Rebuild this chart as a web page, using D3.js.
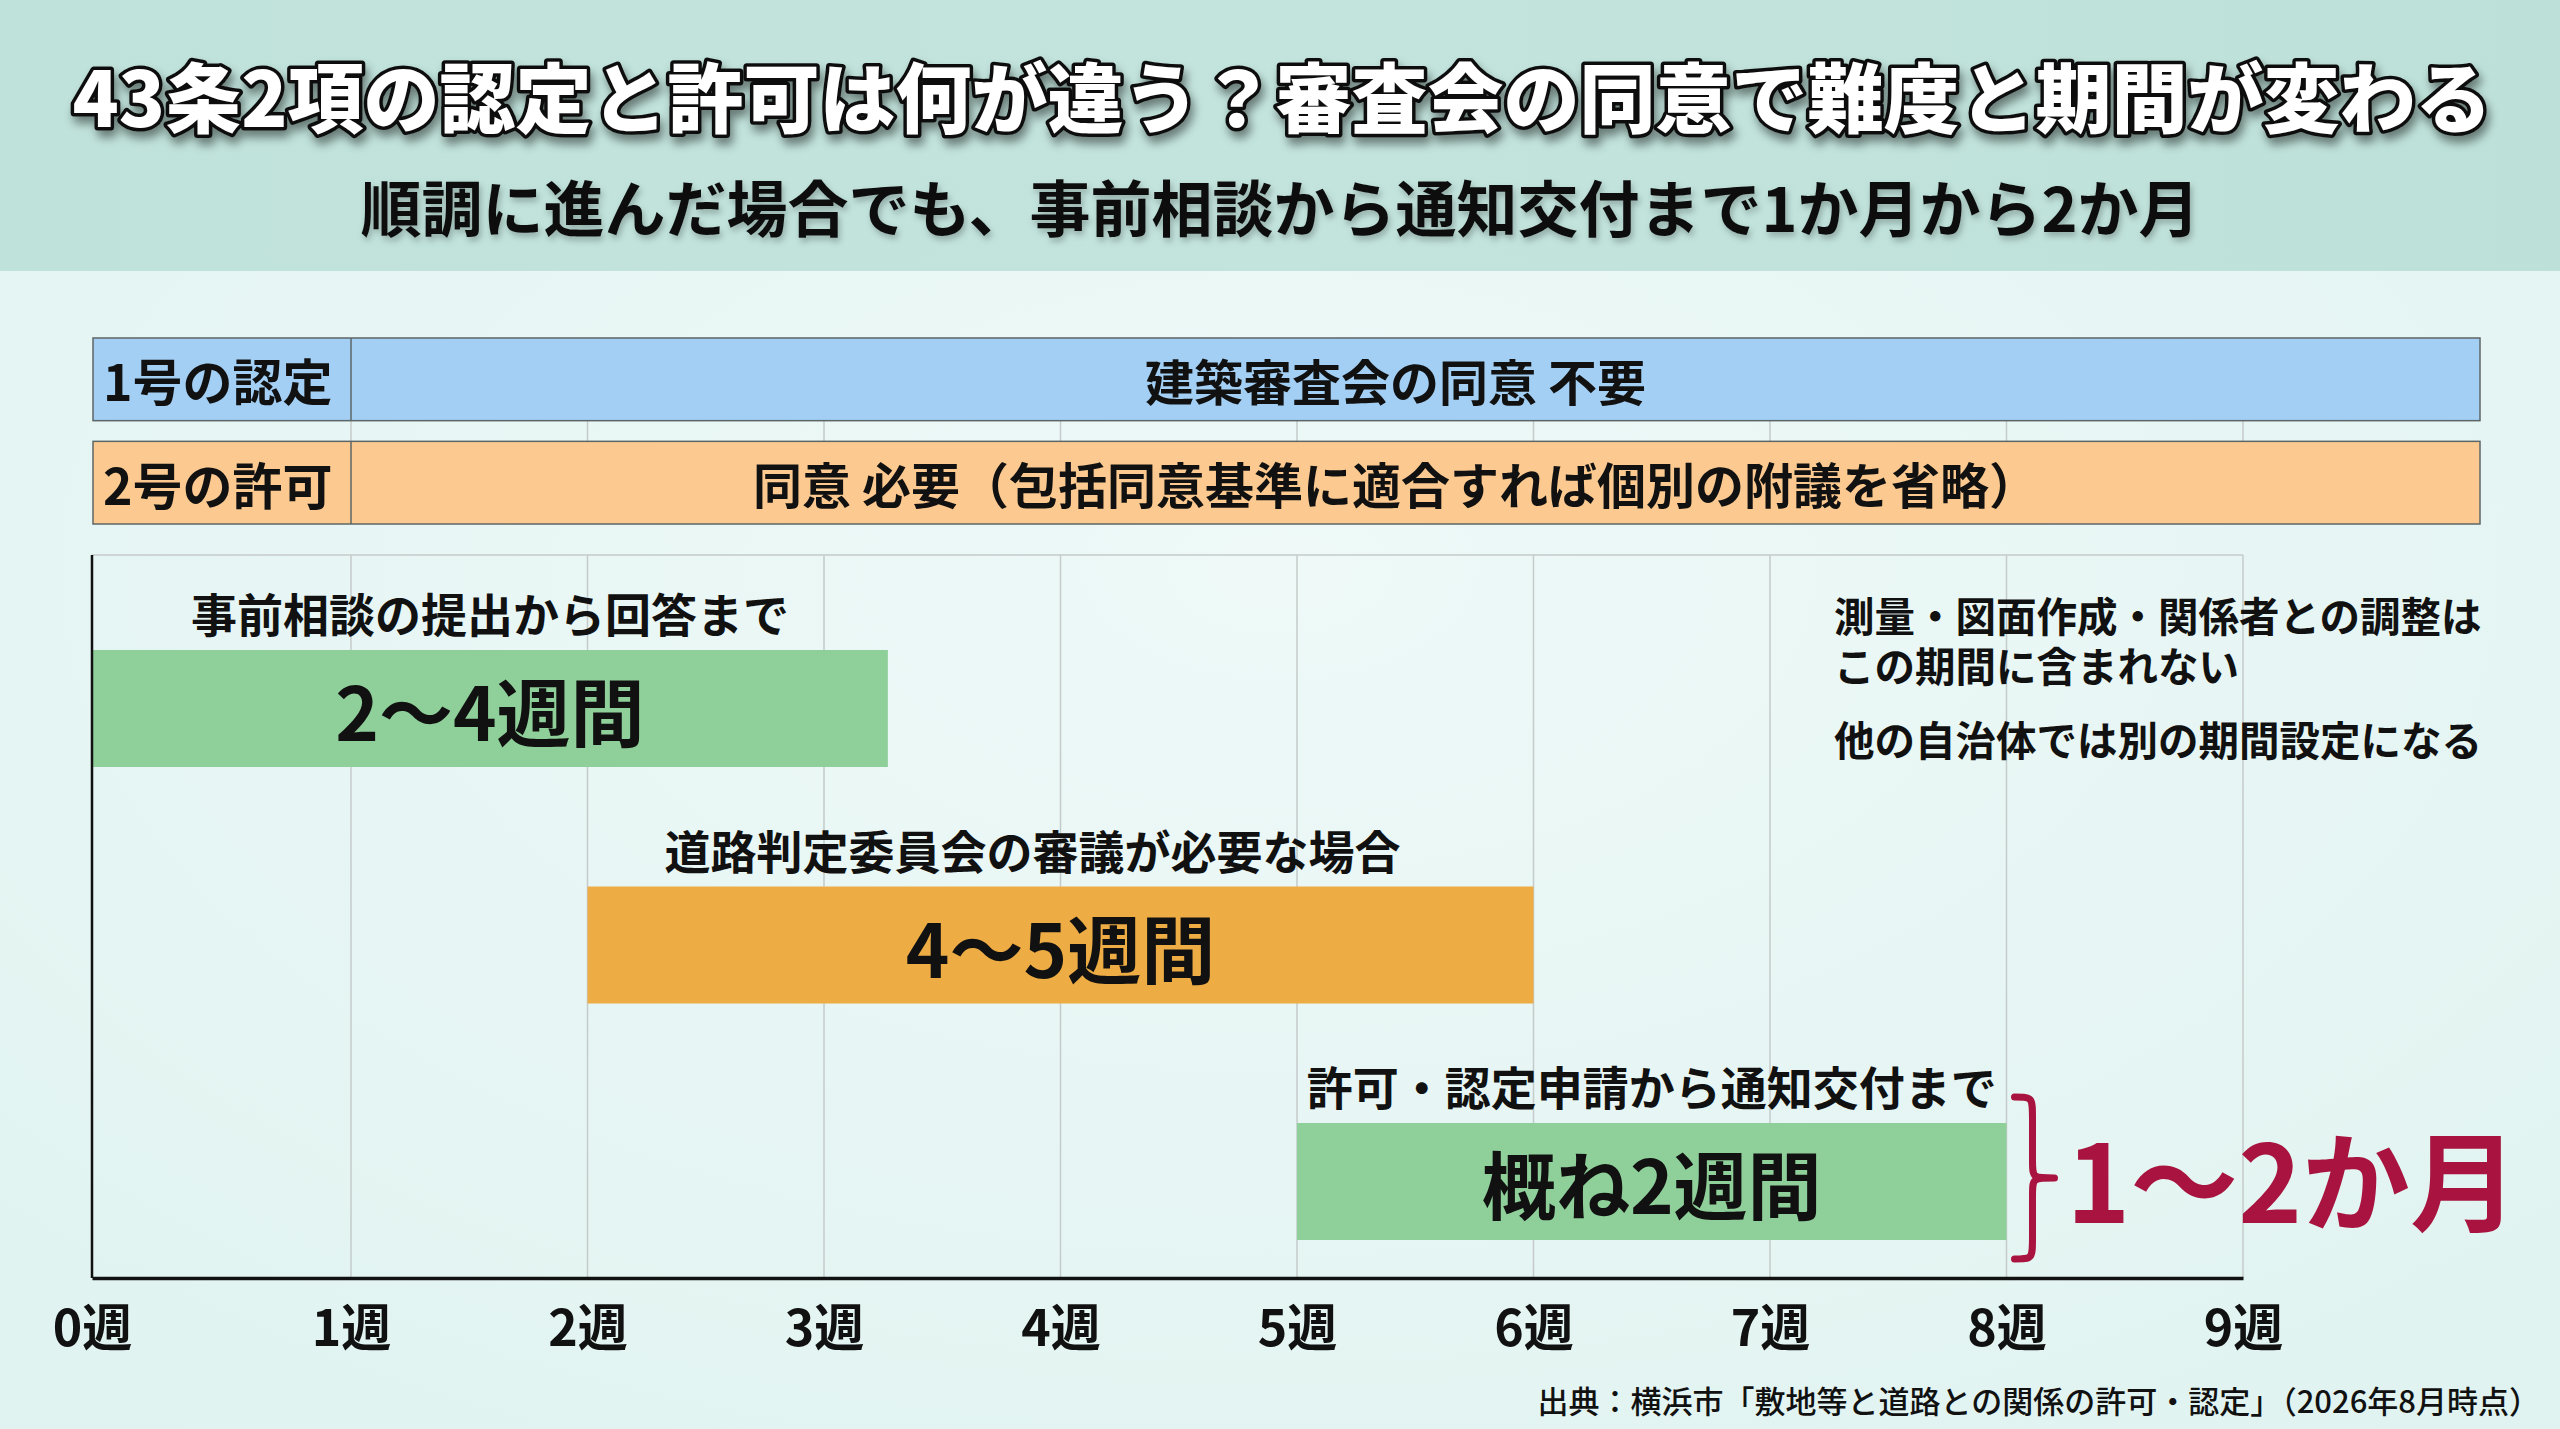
<!DOCTYPE html>
<html><head><meta charset="utf-8">
<script src="https://cdn.jsdelivr.net/npm/d3@7"></script>
<style>
html,body{margin:0;padding:0;background:#e6f5f3;overflow:hidden;}
svg{display:block;}
text{font-family:"Noto Sans CJK JP","Noto Sans",sans-serif;}
</style>
</head><body>
<svg id="chart" width="2560" height="1429"></svg>
<script>
// ---- data ----
const titleText = "43条2項の認定と許可は何が違う？審査会の同意で難度と期間が変わる";
const subtitleText = "順調に進んだ場合でも、事前相談から通知交付まで1か月から2か月";
const rowLabels = ["1号の認定", "2号の許可"];
const rowTexts = ["建築審査会の同意 不要", "同意 必要（包括同意基準に適合すれば個別の附議を省略）"];
const weekTicks = [0, 1, 2, 3, 4, 5, 6, 7, 8, 9];
const tickLabels = ["0週", "1週", "2週", "3週", "4週", "5週", "6週", "7週", "8週", "9週"];
const barCaptions = ["事前相談の提出から回答まで", "道路判定委員会の審議が必要な場合", "許可・認定申請から通知交付まで"];
const barValueLabels = ["2〜4週間", "4〜5週間", "概ね2週間"];
const barStart = [0, 2, 5];
const barEnd = [3.27, 6, 8];
const totalLabel = "1〜2か月";
const notes = ["測量・図面作成・関係者との調整は", "この期間に含まれない", "他の自治体では別の期間設定になる"];
const sourceText = "出典：横浜市「敷地等と道路との関係の許可・認定」（2026年8月時点）";

// ---- styles ----
const rowColors = ["#a3cff4", "#fcca90"];
const barColors = ["#8fd09a", "#eeac45", "#8fd09a"];
const accent = "#a8143f";

const W = 2560, H = 1429;
const svg = d3.select("#chart");
const defs = svg.append("defs");

const hg = defs.append("linearGradient").attr("id", "hg").attr("x1", 0).attr("x2", 1).attr("y1", 0).attr("y2", 0);
hg.append("stop").attr("offset", "0%").attr("stop-color", "#bfe2da");
hg.append("stop").attr("offset", "50%").attr("stop-color", "#c3e4dd");
hg.append("stop").attr("offset", "100%").attr("stop-color", "#bde1d9");
const bg = defs.append("radialGradient").attr("id", "bg").attr("cx", "50%").attr("cy", "40%").attr("r", "75%");
bg.append("stop").attr("offset", "0%").attr("stop-color", "#eef9f8");
bg.append("stop").attr("offset", "100%").attr("stop-color", "#e0f3f0");

const sh = defs.append("filter").attr("id", "tshadow").attr("x", "-5%").attr("y", "-30%").attr("width", "110%").attr("height", "170%");
sh.append("feDropShadow").attr("dx", 3).attr("dy", 7).attr("stdDeviation", 5).attr("flood-color", "#000").attr("flood-opacity", 0.45);
const sh2 = defs.append("filter").attr("id", "sshadow").attr("x", "-5%").attr("y", "-30%").attr("width", "110%").attr("height", "170%");
sh2.append("feDropShadow").attr("dx", 2).attr("dy", 4).attr("stdDeviation", 3).attr("flood-color", "#000").attr("flood-opacity", 0.25);

svg.append("rect").attr("width", W).attr("height", H).attr("fill", "url(#bg)");
svg.append("rect").attr("width", W).attr("height", 271).attr("fill", "url(#hg)");

// title
svg.append("text").attr("x", 1282).attr("y", 94)
  .attr("text-anchor", "middle").attr("dominant-baseline", "central")
  .attr("font-size", 76).attr("font-weight", 900).attr("fill", "#fff")
  .attr("stroke", "#111").attr("stroke-width", 7).attr("stroke-linejoin", "round")
  .attr("paint-order", "stroke").attr("filter", "url(#tshadow)")
  .text(titleText);
svg.append("text").attr("x", 1280).attr("y", 205)
  .attr("text-anchor", "middle").attr("dominant-baseline", "central")
  .attr("font-size", 61).attr("font-weight", 700).attr("fill", "#111")
  .attr("filter", "url(#sshadow)")
  .text(subtitleText);

// scales
const x = d3.scaleLinear().domain([0, 1, 9]).range([92, 351, 2243]);
const plotTop = 555, plotBottom = 1278;
const rowY = d3.scaleBand().domain(d3.range(rowLabels.length)).range([338, 524]).paddingInner(0.2).paddingOuter(0);
const barY = d3.scaleLinear().domain([0, 2]).range([650, 1123]);
const barH = 117;
const bandLeft = 93, bandRight = 2480, labelSplit = x(1);

// gridlines (behind bands and in plot)
svg.append("g").selectAll("line").data(weekTicks.filter(d => d > 0)).join("line")
  .attr("x1", d => x(d)).attr("x2", d => x(d))
  .attr("y1", 338).attr("y2", 524)
  .attr("stroke", "#c4cbca").attr("stroke-width", 1.5);
svg.append("g").selectAll("line").data(weekTicks.filter(d => d > 0)).join("line")
  .attr("x1", d => x(d)).attr("x2", d => x(d))
  .attr("y1", plotTop).attr("y2", plotBottom)
  .attr("stroke", "#c4cbca").attr("stroke-width", 1.5);
svg.append("line").attr("x1", x(0)).attr("x2", x(9)).attr("y1", plotTop).attr("y2", plotTop)
  .attr("stroke", "#c4cbca").attr("stroke-width", 1.5);

// top bands
const rows = svg.append("g").selectAll("g").data(rowLabels).join("g");
rows.append("rect")
  .attr("x", bandLeft).attr("y", (d, i) => rowY(i))
  .attr("width", bandRight - bandLeft).attr("height", rowY.bandwidth())
  .attr("fill", (d, i) => rowColors[i]).attr("stroke", "#5d6666").attr("stroke-width", 1.5);
rows.append("line")
  .attr("x1", labelSplit).attr("x2", labelSplit)
  .attr("y1", (d, i) => rowY(i)).attr("y2", (d, i) => rowY(i) + rowY.bandwidth())
  .attr("stroke", "#5d6666").attr("stroke-width", 1.5);
rows.append("text")
  .attr("x", bandLeft + 10).attr("y", (d, i) => rowY(i) + rowY.bandwidth() / 2)
  .attr("dominant-baseline", "central").attr("font-size", 50).attr("font-weight", 700).attr("fill", "#111")
  .text(d => d);
rows.append("text")
  .attr("x", (labelSplit + bandRight) / 2 - 20).attr("y", (d, i) => rowY(i) + rowY.bandwidth() / 2)
  .attr("text-anchor", "middle").attr("dominant-baseline", "central")
  .attr("font-size", 49).attr("font-weight", 700).attr("fill", "#111")
  .text((d, i) => rowTexts[i]);

// bars
const bars = svg.append("g").selectAll("g").data(barValueLabels).join("g");
bars.append("rect")
  .attr("x", (d, i) => x(barStart[i])).attr("y", (d, i) => barY(i))
  .attr("width", (d, i) => x(barEnd[i]) - x(barStart[i])).attr("height", barH)
  .attr("fill", (d, i) => barColors[i]);
bars.append("text")
  .attr("x", (d, i) => (x(barStart[i]) + x(barEnd[i])) / 2 - (i === 1 ? 28 : 0))
  .attr("y", (d, i) => barY(i) - 38)
  .attr("text-anchor", "middle").attr("dominant-baseline", "central")
  .attr("font-size", 46).attr("font-weight", 700).attr("fill", "#111")
  .text((d, i) => barCaptions[i]);
bars.append("text")
  .attr("x", (d, i) => (x(barStart[i]) + x(barEnd[i])) / 2)
  .attr("y", (d, i) => barY(i) + barH / 2)
  .attr("text-anchor", "middle").attr("dominant-baseline", "central")
  .attr("font-size", 74).attr("font-weight", 700).attr("fill", "#111")
  .text(d => d);

// left axis line
svg.append("line").attr("x1", x(0)).attr("x2", x(0)).attr("y1", plotTop).attr("y2", plotBottom)
  .attr("stroke", "#111").attr("stroke-width", 2.5);

// bottom axis
const axis = svg.append("g").attr("transform", `translate(0,${plotBottom})`)
  .call(d3.axisBottom(x).tickValues(weekTicks).tickFormat((d, i) => tickLabels[i]).tickSize(0).tickSizeOuter(0));
axis.select(".domain").attr("stroke", "#111").attr("stroke-width", 3.5);
axis.selectAll("text")
  .attr("y", 46).attr("dy", null).attr("dominant-baseline", "central")
  .attr("font-size", 50).attr("font-weight", 700).attr("fill", "#111")
  .attr("font-family", "'Noto Sans CJK JP', sans-serif");

// brace + total
const bi = 2;
const by0 = barY(bi) - 26, by1 = barY(bi) + barH + 19, bym = (by0 + by1) / 2;
const bx0 = x(barEnd[bi]) + 8, bxm = bx0 + 18, bxt = bx0 + 40;
const bp = d3.path();
bp.moveTo(bx0, by0);
bp.bezierCurveTo(bxm, by0, bxm, by0, bxm, by0 + 22);
bp.lineTo(bxm, bym - 18);
bp.bezierCurveTo(bxm, bym, bxm, bym, bxt, bym);
bp.bezierCurveTo(bxm, bym, bxm, bym, bxm, bym + 18);
bp.lineTo(bxm, by1 - 22);
bp.bezierCurveTo(bxm, by1, bxm, by1, bx0, by1);
svg.append("path").attr("d", bp.toString()).attr("fill", "none")
  .attr("stroke", accent).attr("stroke-width", 7).attr("stroke-linecap", "round").attr("stroke-linejoin", "round");
svg.append("text").attr("x", bxt + 12).attr("y", bym - 2)
  .attr("dominant-baseline", "central").attr("font-size", 108).attr("font-weight", 700)
  .attr("fill", accent).text(totalLabel);

// notes
const noteY = [614, 664, 738];
svg.append("g").selectAll("text").data(notes).join("text")
  .attr("x", 1834).attr("y", (d, i) => noteY[i])
  .attr("dominant-baseline", "central").attr("font-size", 40.5).attr("font-weight", 700).attr("fill", "#111")
  .text(d => d);

// source
svg.append("text").attr("x", 2540).attr("y", 1399)
  .attr("text-anchor", "end").attr("dominant-baseline", "central")
  .attr("font-size", 31).attr("font-weight", 500).attr("fill", "#111")
  .text(sourceText);
</script>
</body></html>
